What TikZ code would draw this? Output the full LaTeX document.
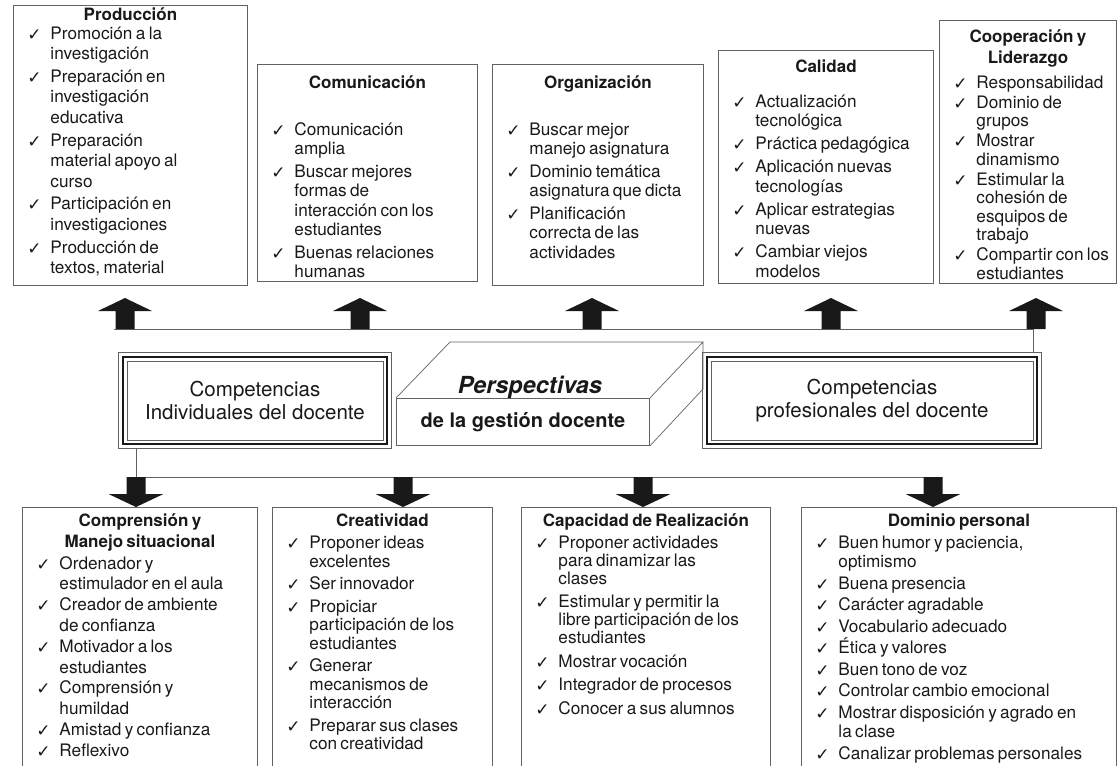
\documentclass[tikz,border=0pt]{standalone}
\usepackage{fontspec}
\setmainfont{TeX Gyre Heros}
\newfontfamily\ckfont{DejaVu Sans}
\usetikzlibrary{calc}
\definecolor{framegray}{gray}{0.38}
\definecolor{inkblack}{gray}{0.1}
\newcommand{\lst}[2]{\fontsize{17.2}{#1}\selectfont\parindent=0pt\setlength{\parskip}{#2}}
\newcommand{\ttl}[1]{{\centering\fontsize{17}{21}\selectfont\bfseries #1\par}}
\newcommand{\itm}[1]{\par\leftskip=14pt\hangindent=23pt\hangafter=1
  \leavevmode\makebox[23pt][l]{\raisebox{-1pt}{\ckfont\fontsize{17}{17}\selectfont ✓}}#1\par}
\tikzset{
	box/.style 2 args={draw=framegray, line width=0.9pt, anchor=north west, inner sep=0pt,
			minimum width=#1, minimum height=#2},
	list/.style={anchor=base, inner sep=0pt, text width=#1, align=left, text=inkblack},
	link/.style={draw=framegray, line width=0.9pt},
	uparrow/.pic={\fill[inkblack] (-9.5,0) -- (-9.5,-18) -- (-27,-18) -- (0,-31) -- (27,-18) -- (9.5,-18) -- (9.5,0) -- cycle;},
	downarrow/.pic={\fill[inkblack] (-9.5,0) -- (-9.5,17) -- (-27.5,17) -- (0,30) -- (27.5,17) -- (9.5,17) -- (9.5,0) -- cycle;}
}

\begin{document}
\begin{tikzpicture}[x=1pt, y=-1pt, text=inkblack]
	\useasboundingbox (0,0) rectangle (1117,766);
	\clip (0,0) rectangle (1117,766);

	% upper row
	\node[box={234pt}{280pt}] (prod) at (13,5) {};
	\node[box={220pt}{217pt}] (comu) at (257,64) {};
	\node[box={211pt}{221pt}] (orga) at (492,64) {};
	\node[box={215pt}{233pt}] (cali) at (718,50) {};
	\node[box={177pt}{263pt}] (coop) at (939,20) {};

	\node[list=234pt] (prodtxt) at ([yshift=-15pt]prod.north) {\lst{20.8pt}{1.5pt}\ttl{Producción}\vspace{-3.3pt}
		\itm{Promoción a la\newline investigación}
		\itm{Preparación en\newline investigación\newline educativa}
		\itm{Preparación\newline material apoyo al\newline curso}
		\itm{Participación en\newline investigaciones}
		\itm{Producción de\newline textos, material}};
	\node[list=220pt] (comutxt) at ([yshift=-24pt]comu.north) {\lst{19.5pt}{3pt}\ttl{Comunicación}\vspace{24.5pt}
		\itm{Comunicación\newline amplia}
		\itm{Buscar mejores\newline formas de\newline interacción con los\newline estudiantes}
		\itm{Buenas relaciones\newline humanas}};
	\node[list=211pt] (orgatxt) at ([yshift=-24pt]orga.north) {\lst{19.5pt}{3pt}\ttl{Organización}\vspace{24.5pt}
		\itm{Buscar mejor\newline manejo asignatura}
		\itm{Dominio temática\newline asignatura que dicta}
		\itm{Planificación\newline correcta de las\newline actividades}};
	\node[list=215pt] (calitxt) at ([yshift=-22pt]cali.north) {\lst{19.5pt}{3.5pt}\ttl{Calidad}\vspace{12pt}
		\itm{Actualización\newline tecnológica}
		\itm{Práctica pedagógica}
		\itm{Aplicación nuevas\newline tecnologías}
		\itm{Aplicar estrategias\newline nuevas}
		\itm{Cambiar viejos\newline modelos}};
	\node[list=177pt] (cooptxt) at ([yshift=-22pt]coop.north) {\lst{18.3pt}{2pt}\ttl{Cooperación y\\Liderazgo}\vspace{4.7pt}
		\itm{Responsabilidad}
		\itm{Dominio de\newline grupos}
		\itm{Mostrar\newline dinamismo}
		\itm{Estimular la\newline cohesión de\newline esquipos de\newline trabajo}
		\itm{Compartir con los\newline estudiantes}};

	% centre
	\node[box={273pt}{96pt}, align=center, font=\fontsize{20.5}{23}\selectfont] (indiv) at (118,352) {Competencias\\Individuales del docente};
	\node[box={339pt}{96pt}, align=center, font=\fontsize{20.5}{23}\selectfont] (prof) at (702,352) {Competencias\\profesionales del docente};
	\foreach \n in {indiv,prof} {
		\draw[inkblack, line width=2pt] ([shift={(5,5)}]\n.north west) rectangle ([shift={(-5,-5)}]\n.south east);
		\draw[framegray, line width=0.7pt] ([shift={(9,9)}]\n.north west) rectangle ([shift={(-9,-9)}]\n.south east);
	}
	\node[box={253pt}{47pt}, font=\fontsize{20}{22}\selectfont\bfseries] (front) at (396,398) {de la gestión docente};
	\draw[link, line width=0.7pt] (front.north west) -- ++(54,-56) coordinate (backl) -- ++(253,0) coordinate (backr)
		-- (front.north east) (backr) -- ++(0,47) -- (front.south east);
	\node[anchor=base, font=\fontsize{23.5}{26}\selectfont\bfseries\itshape] (persp) at (530,393) {Perspectivas};

	% connectors
	\coordinate (tl) at (114,329);
	\coordinate (tr) at (1033,329);
	\draw[link] (tl) -- (tr) -- (tr |- prof.north);
	\foreach \x in {125,360,592,831,1036}
		\pic at (\x,329) {uparrow};
	\coordinate (bl) at (136,477);
	\coordinate (br) at (933,477);
	\draw[link] (bl |- indiv.south) -- (bl) -- (br);
	\foreach \x in {136,403,643,933}
		\pic at (\x,477) {downarrow};

	% lower row
	\node[box={235pt}{280pt}] (comp) at (22,507) {};
	\node[box={220pt}{280pt}] (crea) at (272,507) {};
	\node[box={249pt}{280pt}] (capa) at (521,507) {};
	\node[box={315pt}{280pt}] (domi) at (801,507) {};

	\node[list=235pt] (comptxt) at ([yshift=-19pt]comp.north) {\lst{20.8pt}{0pt}\ttl{Comprensión y\\Manejo situacional}\vspace{1.2pt}
		\itm{Ordenador y\newline estimulador en el aula}
		\itm{Creador de ambiente\newline de confianza}
		\itm{Motivador a los\newline estudiantes}
		\itm{Comprensión y\newline humildad}
		\itm{Amistad y confianza}
		\itm{Reflexivo}};
	\node[list=220pt] (creatxt) at ([yshift=-19pt]crea.north) {\lst{18.5pt}{4pt}\ttl{Creatividad}
		\itm{Proponer ideas\newline excelentes}
		\itm{Ser innovador}
		\itm{Propiciar\newline participación de los\newline estudiantes}
		\itm{Generar\newline mecanismos de\newline interacción}
		\itm{Preparar sus clases\newline con creatividad}};
	\node[list=249pt] (capatxt) at ([yshift=-19pt]capa.north) {\lst{18pt}{5.5pt}\ttl{Capacidad de Realización}\vspace{-1.5pt}
		\itm{Proponer actividades\newline para dinamizar las\newline clases}
		\itm{Estimular y permitir la\newline libre participación de los\newline estudiantes}
		\itm{Mostrar vocación}
		\itm{Integrador de procesos}
		\itm{Conocer a sus alumnos}};
	\node[list=315pt] (domitxt) at ([yshift=-19pt]domi.north) {\lst{19.5pt}{2pt}\ttl{Dominio personal}\vspace{0.5pt}
		\itm{Buen humor y paciencia,\newline optimismo}
		\itm{Buena presencia}
		\itm{Carácter agradable}
		\itm{Vocabulario adecuado}
		\itm{Ética y valores}
		\itm{Buen tono de voz}
		\itm{Controlar cambio emocional}
		\itm{Mostrar disposición y agrado en\newline la clase}
		\itm{Canalizar problemas personales}};
\end{tikzpicture}
\end{document}
